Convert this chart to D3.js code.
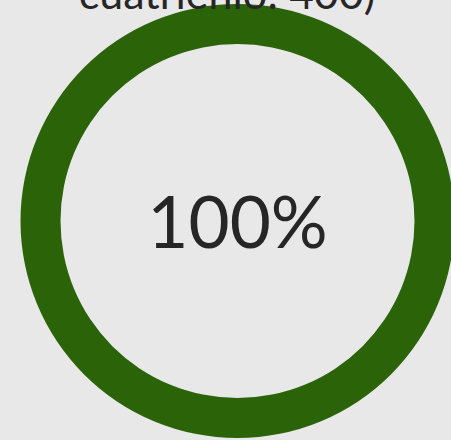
<!DOCTYPE html>
<html>
<head>
<meta charset="utf-8">
<script src="https://cdn.jsdelivr.net/npm/d3@7"></script>
<style>
  html, body { margin: 0; padding: 0; background: #e8e8e8; }
  svg { display: block; }
</style>
</head>
<body>
<div id="chart"></div>
<script>
// data
const labels = ["avance", "pendiente"];
const values = [400, 0];
const goal = [400];
const titleLines = ["cuatrienio: 400)"];

function buildDonut(parentID) {
	const width = 451, height = 440;
	const cx = 237.5, cy = 221;
	const outerR = 217, innerR = 177;

	const colorScale = d3.scaleOrdinal()
		.domain(labels)
		.range(["#2b6309", "#e8e8e8"]);

	const svg = d3.select(parentID).append("svg")
		.attr("width", width)
		.attr("height", height);

	svg.append("rect")
		.attr("width", width)
		.attr("height", height)
		.attr("fill", "#e8e8e8");

	const arcFn = d3.arc()
		.outerRadius(outerR)
		.innerRadius(innerR);

	const pieFn = d3.pie()
		.sort(null)
		.value(d => d.value);

	const pieData = pieFn(labels.map((l, i) => ({label: l, value: values[i]})));

	const g = svg.append("g")
		.attr("transform", `translate(${cx},${cy})`);

	g.selectAll(".arc")
		.data(pieData)
		.enter().append("path")
		.attr("class", "arc")
		.attr("d", arcFn)
		.style("fill", d => colorScale(d.data.label));

	const pct = d3.format(".0%")(values[0] / goal[0]);

	g.append("text")
		.attr("text-anchor", "middle")
		.attr("y", 27)
		.style("font-family", "Lato, sans-serif")
		.style("font-size", "71px")
		.style("fill", "#262626")
		.text(pct);

	// title (partly cut off at the top)
	svg.append("text")
		.attr("x", 227)
		.attr("y", 9)
		.attr("text-anchor", "middle")
		.style("font-family", "Lato, sans-serif")
		.style("font-size", "43px")
		.style("fill", "#262626")
		.text(titleLines[0]);
}

buildDonut("#chart");
</script>
</body>
</html>
